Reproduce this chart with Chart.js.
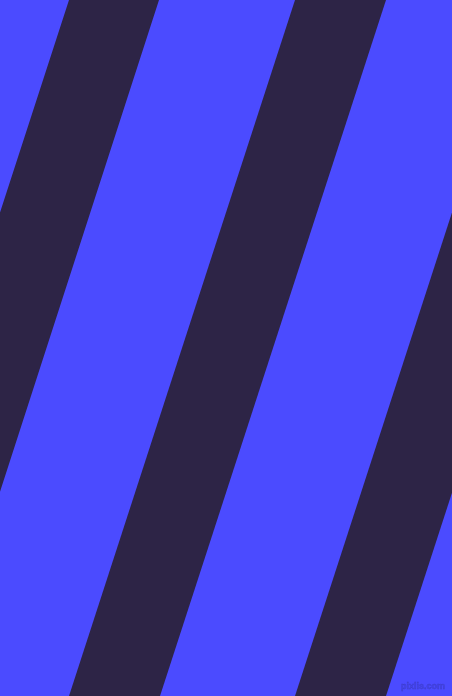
<!DOCTYPE html>
<html>
<head>
<meta charset="utf-8">
<script src="https://cdn.jsdelivr.net/npm/chart.js@4/dist/chart.umd.min.js"></script>
<style>
  html, body { margin: 0; padding: 0; background: #4b4bff; overflow: hidden; }
  #wrap { position: relative; width: 452px; height: 696px; }
  #mark { position: absolute; right: 7px; bottom: 5px; font: bold 9px "Liberation Sans", Arial, sans-serif;
          line-height: 10px; color: #4444e8; -webkit-text-stroke: 0.4px #3d3dc8; }
</style>
</head>
<body>
<div id="wrap">
  <canvas id="c" width="452" height="696"></canvas>
  <div id="mark">pixlis.com</div>
</div>
<script>
// Stripe edges: x position at the top (y = 0) and at the bottom (y = 696)
const edgeNames   = ['e1', 'e2', 'e3', 'e4', 'e5', 'e6'];
const edgeTopX    = [69, 159, 295, 386, 521, 612];
const edgeBottomX = [-157, -66, 69, 160, 295, 386];
const edgeY       = [0, 696];
// colour of the area left of each edge (layered, first on top)
const BLUE = '#4b4bff';
const DARK = '#2d2446';
const edgeFill = [BLUE, DARK, BLUE, DARK, BLUE, DARK];

const datasets = edgeNames.map((n, i) => ({
  label: n,
  data: [{ x: edgeTopX[i], y: edgeY[0] }, { x: edgeBottomX[i], y: edgeY[1] }],
  fill: { value: 0 },
  backgroundColor: edgeFill[i],
  borderColor: edgeFill[i],
  borderWidth: 0,
  pointRadius: 0,
  tension: 0
}));

new Chart(document.getElementById('c'), {
  type: 'line',
  data: { datasets },
  options: {
    indexAxis: 'y',
    responsive: false,
    animation: false,
    devicePixelRatio: 1,
    layout: { padding: 0 },
    plugins: { legend: { display: false }, tooltip: { enabled: false }, title: { display: false } },
    scales: {
      x: { type: 'linear', min: 0, max: 452, display: false },
      y: { type: 'linear', min: 0, max: 696, reverse: true, display: false }
    }
  }
});
</script>
</body>
</html>
